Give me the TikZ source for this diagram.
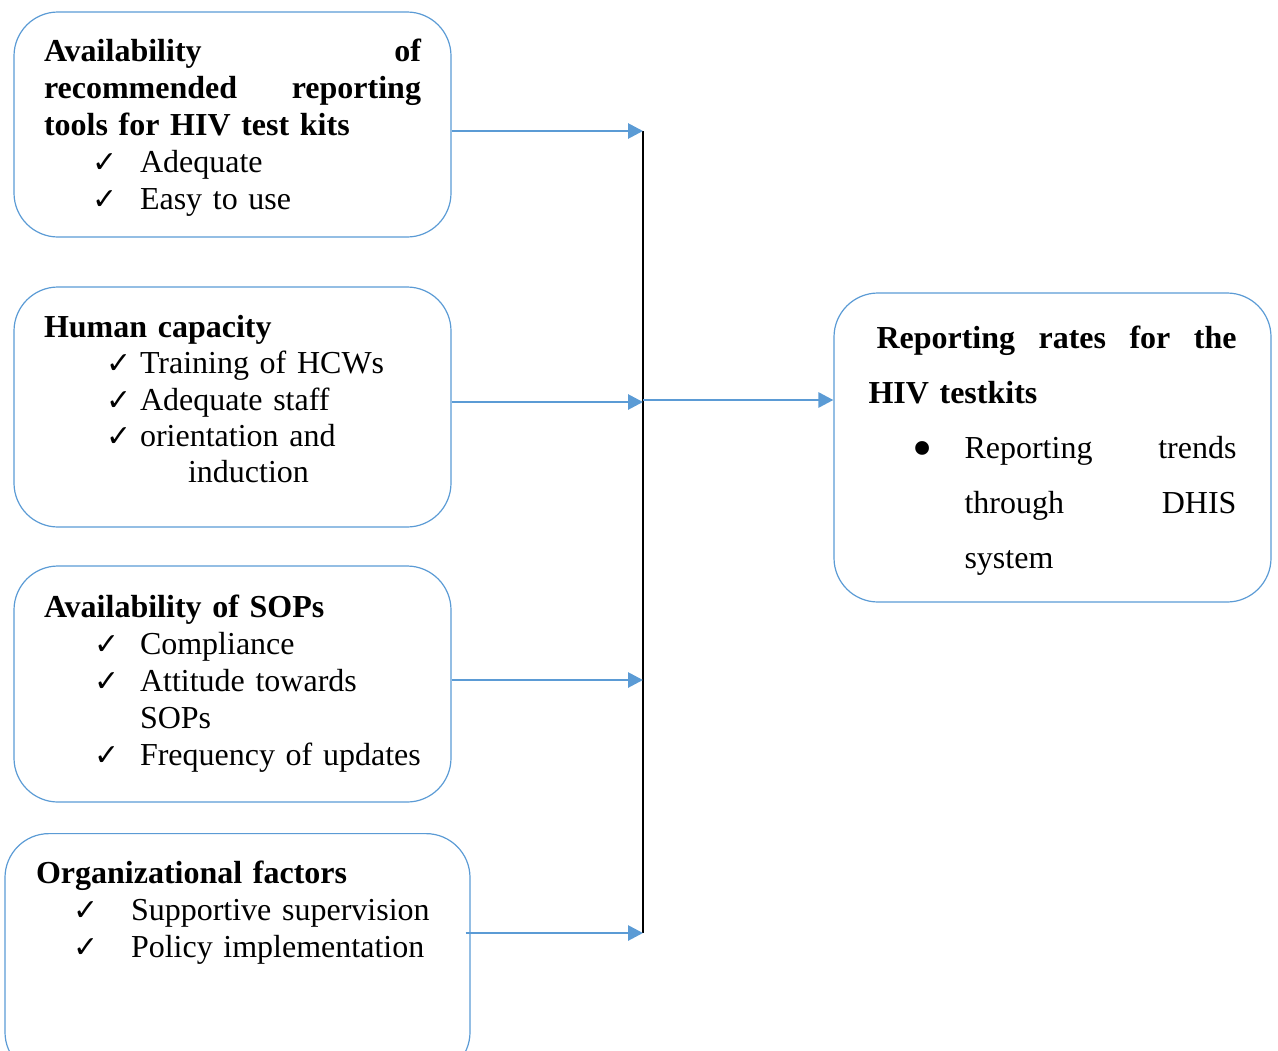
\documentclass[tikz,border=0pt]{standalone}
\usepackage{fontspec}
\setmainfont{Liberation Serif}
\newfontfamily\symbolfont{DejaVu Sans}
\usetikzlibrary{arrows.meta}
\definecolor{lineblue}{RGB}{91,155,213}
% ticked item: indent, tick width, text
\newcommand{\tickitem}[3]{\hspace*{#1}\makebox[#2][l]{\symbolfont\fontsize{15}{15}\selectfont ✓}#3}
\begin{document}
\begin{tikzpicture}[x=0.5pt,y=-0.5pt,>={Triangle[length=7.5pt,width=7.5pt]}, line join=round,
  factor/.style={draw=lineblue, line width=0.6pt, rounded corners=22pt, minimum width=218.5pt,
    text width=188.5pt, align=left, inner sep=0pt, font=\fontsize{16}{18.5}\selectfont},
  feed/.style={->, draw=lineblue, line width=1.4pt}]
\useasboundingbox (0,0) rectangle (1278,1050);
% Cac yeu to dau vao
\node[factor, minimum height=112.5pt] (tools) at (232.5,124.5)
  {{\bfseries \rule{0pt}{14pt}Availability\hfill of\\ recommended\hfill reporting\\ tools for HIV test kits}\\
   \tickitem{24pt}{24pt}{Adequate}\\
   \tickitem{24pt}{24pt}{Easy to use}};
\node[factor, minimum height=120pt, font=\fontsize{16}{18.2}\selectfont] (human) at (232.5,407)
  {{\bfseries Human capacity}\\
   \tickitem{31pt}{17pt}{Training of HCWs}\\
   \tickitem{31pt}{17pt}{Adequate staff}\\
   \tickitem{31pt}{17pt}{orientation and}\\
   \hspace*{72pt}induction\rule[-8pt]{0pt}{8pt}};
\node[factor, minimum height=118pt] (sops) at (232.5,684)
  {{\bfseries Availability of SOPs}\\
   \tickitem{25pt}{23pt}{Compliance}\\
   \tickitem{25pt}{23pt}{Attitude towards}\\
   \hspace*{48pt}SOPs\\
   \tickitem{25pt}{23pt}{Frequency of updates}};
\node[factor, anchor=north, minimum width=232.5pt, text width=201.5pt, inner ysep=13.5pt,
  text depth=83pt] (org) at (237.5,833)
  {{\bfseries Organizational factors}\\
   \tickitem{18.5pt}{29pt}{Supportive supervision}\\
   \tickitem{18.5pt}{29pt}{Policy implementation}};
% Ket qua
\node[factor, text width=184pt, minimum height=154.5pt, font=\fontsize{16}{27.5}\selectfont]
  (rates) at (1052.5,447.5)
  {{\bfseries \hspace*{4pt}\rule{0pt}{14pt}Reporting\hfill rates\hfill for\hfill the\\ HIV testkits}\\
   \hspace*{22pt}\makebox[26pt][l]{\raisebox{-4.6pt}{\scalebox{1.8}{\textbullet}}}Reporting\hfill trends\\
   \hspace*{48pt}through\hfill DHIS\\
   \hspace*{48pt}system};
% Duong noi
\coordinate (j1) at (643,131);
\coordinate (j2) at (643,402);
\coordinate (j3) at (643,680);
\coordinate (j4) at (643,933);
\coordinate (jm) at (643,400);
\draw[line width=1pt] (j1) -- (j4);
\draw[feed] (tools.east |- j1) -- (j1);
\draw[feed] (human.east |- j2) -- (j2);
\draw[feed] (sops.east |- j3) -- (j3);
\draw[feed] ([xshift=-2.5pt]org.east |- j4) -- (j4);
\draw[feed] (jm) -- (rates.west |- jm);
\end{tikzpicture}
\end{document}
